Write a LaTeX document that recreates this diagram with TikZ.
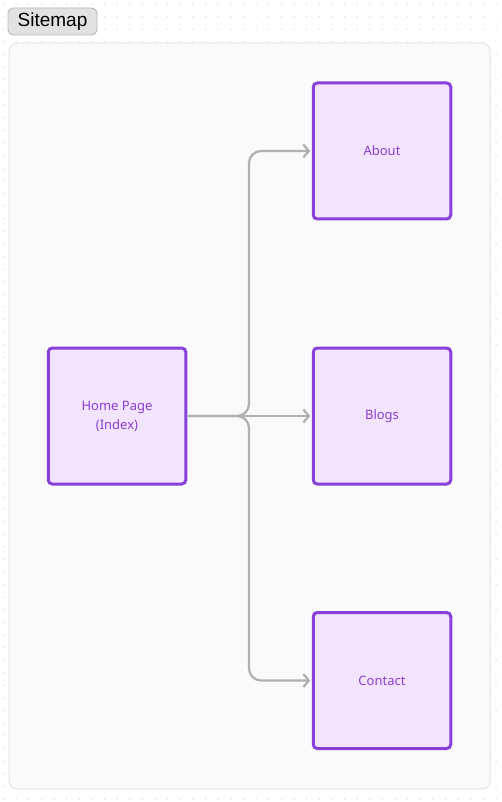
\documentclass[tikz,border=0pt]{standalone}
\usepackage{fontspec}
\setmainfont{Liberation Sans}
\newfontfamily\labelfont{Noto Sans}
\usetikzlibrary{arrows.meta}
\definecolor{pborder}{HTML}{8840D8}
\definecolor{pfill}{HTML}{F2E4FD}
\definecolor{ptext}{HTML}{8A3ED0}
\definecolor{conncol}{HTML}{B0B0B0}
\definecolor{dotcol}{HTML}{DCDCDC}
\definecolor{contfill}{HTML}{FAFAFA}
\definecolor{contdraw}{HTML}{E4E4E4}
\definecolor{titlefill}{HTML}{E2E2E2}
\definecolor{titledraw}{HTML}{B8B8B8}
\tikzset{
  pagebox/.style={draw=pborder, fill=pfill, line width=3pt, rounded corners=4pt,
    minimum width=137.5pt, minimum height=136pt, inner sep=0pt,
    text=ptext, font=\labelfont\fontsize{13}{19}\selectfont, align=center},
  conn/.style={draw=conncol, line width=2.2pt,
    -{Straight Barb[length=5.5pt,width=13pt,line width=2.2pt]}, shorten >=1.5pt},
  titlebox/.style={draw=titledraw, fill=titlefill, line width=0.9pt, rounded corners=6pt,
    minimum width=89pt, minimum height=27pt, inner sep=0pt, font=\fontsize{19}{22}\selectfont},
  container/.style={draw=contdraw, fill=contfill, line width=1pt, rounded corners=8pt}
}
\begin{document}
\begin{tikzpicture}[x=1pt,y=-1pt]
\useasboundingbox (0,0) rectangle (502,802);
\fill[white] (0,0) rectangle (502,802);
\foreach \i in {0,...,39} {
  \foreach \j in {0,...,63} {
    \fill[dotcol] (3.5+12.63*\i, 4+12.62*\j) circle (0.75pt);
  }
}
\draw[container] (9,43) rectangle (490,789);
\node[titlebox] (title) at (52.5,21.5) {Sitemap};

\node[pagebox] (home) at (117,416) {Home Page\\(Index)};
\node[pagebox] (about) at (382,151) {About};
\node[pagebox] (blogs) at (382,416) {Blogs};
\node[pagebox] (contact) at (382,680.5) {Contact};

\coordinate (split) at (249,416);
\draw[conn] (home.east) -- (blogs.west);
\draw[conn, rounded corners=12pt] (home.east) -- (split) |- (about.west);
\draw[conn, rounded corners=12pt] (home.east) -- (split) |- (contact.west);
\end{tikzpicture}
\end{document}
